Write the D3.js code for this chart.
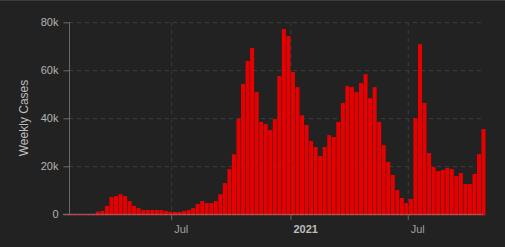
<!DOCTYPE html>
<html>
<head>
<meta charset="utf-8">
<script src="https://cdn.jsdelivr.net/npm/d3@7"></script>
<style>
  html, body { margin: 0; padding: 0; background: #222222; }
  svg { display: block; }
</style>
</head>
<body>
<svg id="chart" width="505" height="247"></svg>
<script>
// ---- data ----
const firstWeek = "2020-01-24";   // start of first weekly bar
const lastDay = "2021-10-24";     // end of time axis
const weeklyCases = [
  150, 0, 0, 0, 0, 150, 1100, 1400, 3500, 7200,
  7600, 8400, 7600, 5500, 3500, 2600, 1800, 1800, 1800, 1800,
  1800, 1400, 1100, 1000, 1000, 1400, 1800, 2600, 4300, 5500,
  4700, 4700, 5500, 8400, 13000, 18900, 25000, 39700, 54300, 63900,
  69300, 50900, 38500, 37600, 35100, 39700, 57600, 77200, 74300, 59300,
  53000, 41200, 37200, 30500, 28000, 24300, 28000, 33000, 32200, 38500,
  46400, 53500, 53000, 50900, 54700, 58400, 48400, 53000, 38500, 28800,
  21800, 16400, 10100, 6800, 4700, 6400, 40100, 70900, 46400, 25500,
  19700, 18000, 18500, 19300, 18900, 15900, 17200, 12600, 12600, 16800,
  25100, 35500
];
const yTicks = [0, 20000, 40000, 60000, 80000];
const yTickLabels = ["0", "20k", "40k", "60k", "80k"];
const xTickDates = ["2020-07-01", "2021-01-01", "2021-07-01"];
const xTickLabels = ["Jul", "2021", "Jul"];
const yTitle = "Weekly Cases";

// ---- build ----
const parse = d3.utcParse("%Y-%m-%d");
const start = parse(firstWeek);
const weeks = weeklyCases.map((v, i) => ({ date: d3.utcDay.offset(start, 7 * i), value: v }));

const svg = d3.select("#chart");
const FONT = "'Liberation Sans', Arial, sans-serif";

const x = d3.scaleUtc().domain([start, parse(lastDay)]).range([68.6, 482.8]);
const y = d3.scaleLinear().domain([0, 80000]).range([214.3, 22.3]);

// top border
svg.append("rect").attr("x", 0).attr("y", 0).attr("width", 505).attr("height", 1).attr("fill", "#3c3c3c");

// horizontal gridlines
svg.append("g").selectAll("line").data(yTicks.slice(1)).join("line")
  .attr("x1", 69).attr("x2", 482)
  .attr("y1", d => Math.round(y(d)) + 0.5).attr("y2", d => Math.round(y(d)) + 0.5)
  .attr("stroke", "#3d3d3d").attr("stroke-width", 1).attr("stroke-dasharray", "4,4");

// vertical gridlines
svg.append("g").selectAll("line").data(xTickDates).join("line")
  .attr("x1", d => x(parse(d))).attr("x2", d => x(parse(d)))
  .attr("y1", y(80000)).attr("y2", y(0))
  .attr("stroke", "#3d3d3d").attr("stroke-width", 1).attr("stroke-dasharray", "4,4");

// bars
svg.append("g").selectAll("rect").data(weeks).join("rect")
  .attr("x", d => x(d.date))
  .attr("width", d => x(d3.utcDay.offset(d.date, 7)) - x(d.date) - 0.5)
  .attr("y", d => y(d.value))
  .attr("height", d => y(0) + 1.3 - y(d.value))
  .attr("fill", "#e60000");

// y axis
const yAxis = d3.axisLeft(y).tickValues(yTicks)
  .tickFormat((d, i) => yTickLabels[i]).tickSize(6).tickPadding(5);
const gy = svg.append("g").attr("transform", "translate(69.5,0)").call(yAxis);
gy.select(".domain").attr("stroke", "#6a6a6a").attr("d", `M0,${y(80000)}V${y(0)}`);
gy.selectAll(".tick line").attr("stroke", "#6a6a6a");
gy.selectAll(".tick text").attr("fill", "#b4b4b4").style("font-family", FONT).style("font-size", "11px");

// x baseline
svg.append("line").attr("x1", 63).attr("x2", 483)
  .attr("y1", y(0)).attr("y2", y(0))
  .attr("stroke", "#777777").attr("stroke-width", 1);

// x axis ticks and labels
const gx = svg.append("g");
gx.selectAll("line").data(xTickDates).join("line")
  .attr("x1", d => x(parse(d))).attr("x2", d => x(parse(d)))
  .attr("y1", y(0)).attr("y2", y(0) + 5.5)
  .attr("stroke", "#6a6a6a");
gx.selectAll("text").data(xTickDates).join("text")
  .attr("x", d => x(parse(d)) + 2.5)
  .attr("y", 233)
  .attr("text-anchor", "start")
  .style("font-family", FONT).style("font-size", "11px")
  .style("font-weight", (d, i) => xTickLabels[i] === "2021" ? "bold" : "normal")
  .attr("fill", (d, i) => xTickLabels[i] === "2021" ? "#bdbdbd" : "#a0a0a0")
  .text((d, i) => xTickLabels[i]);

// y title
svg.append("text")
  .attr("transform", `translate(27.5,118) rotate(-90)`)
  .attr("text-anchor", "middle")
  .style("font-family", FONT).style("font-size", "12px")
  .attr("fill", "#bdbdbd")
  .text(yTitle);
</script>
</body>
</html>
